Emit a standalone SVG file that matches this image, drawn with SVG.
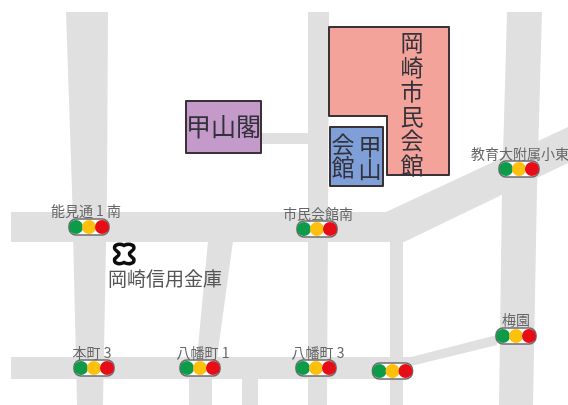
<svg xmlns="http://www.w3.org/2000/svg" xmlns:xlink="http://www.w3.org/1999/xlink" width="568" height="405" viewBox="0 0 568 405">
<style>
.road{fill:#e0e0e0}
.bld{stroke:#3a3238;stroke-width:2;stroke-linejoin:round}
text{font-family:"Noto Sans CJK JP","Noto Sans",sans-serif}
.big{fill:#33303a}
.sm{font-size:14px;fill:#666;text-anchor:middle}
.v{writing-mode:vertical-rl;text-anchor:start}
</style>
<defs>
<filter id="soft" x="-5%" y="-5%" width="110%" height="110%"><feGaussianBlur stdDeviation="0.7"/></filter>
<g id="sig">
<rect x="-20" y="-8" width="40" height="16" rx="7" fill="#fff" stroke="#6b6b6b" stroke-width="1.6"/>
<circle cx="-13" r="7" fill="#0a9a4a"/>
<circle r="7" fill="#fcc010"/>
<circle cx="13" r="7" fill="#e60d16"/>
</g>
</defs>
<rect width="568" height="405" fill="#fff"/>
<g filter="url(#soft)">
<g id="roads">
<polygon class="road" points="66,12 108,12 107,190 103,405 77,405 72,190"/>
<polygon class="road" points="308,12 329,12 327,405 308,405"/>
<polygon class="road" points="507,12 542,12 537,190 533,405 499,405 502,190"/>
<polygon class="road" points="11,212 386,212 568,127 568,163 404,242 11,242"/>
<polygon class="road" points="11,357 411,357 497,335 497,345 411,366 403,379 11,379"/>
<polygon class="road" points="390,240 403,240 403,405 390,405"/>
<polygon class="road" points="208,241 233,241 217,358 197,358"/>
<rect class="road" x="189" y="378" width="23" height="27"/>
<rect class="road" x="242" y="378" width="16" height="27"/>
<rect class="road" x="258" y="133" width="52" height="11"/>
</g>
<g id="koyamakaku">
<rect class="bld" x="186" y="101" width="75" height="52" fill="#c39aca"/>
<text class="big" x="223.500" y="136" font-size="25" text-anchor="middle">甲山閣</text>
</g>
<g id="shimin-kaikan">
<polygon class="bld" points="329,27 449,27 449,175 387,175 387,116 329,116" fill="#f4a39b"/>
<text class="big v" x="412" y="31" font-size="23" letter-spacing="1.500">岡崎市民会館</text>
</g>
<g id="koyama-kaikan">
<rect class="bld" x="330" y="127" width="53" height="59" fill="#7f9fd8"/>
<text class="big v" x="370" y="135" font-size="23" letter-spacing="0">甲山</text>
<text class="big v" x="343" y="133" font-size="23" letter-spacing="0">会館</text>
</g>
<g id="shinkin">
<path d="M114.500,248 C114.500,244 120,243.500 124,245.500 C128,243.500 134,244 134,248 C134,251 129.500,251 129.500,254 C129.500,257 134,257 134,260 C134,264 128,264.500 124,262.500 C120,264.500 114.500,264 114.500,260 C114.500,257 119,257 119,254 C119,251 114.500,251 114.500,248Z" fill="#fff" stroke="#111" stroke-width="3.500"/>
<text x="165" y="286" font-size="19" fill="#555" text-anchor="middle">岡崎信用金庫</text>
</g>
<g id="sig-noumi">
<text class="sm" x="86" y="216">能見通 1 南</text>
<use xlink:href="#sig" href="#sig" x="89" y="227"/>
</g>
<g id="sig-shimin">
<text class="sm" x="318" y="219">市民会館南</text>
<use xlink:href="#sig" href="#sig" x="317" y="229"/>
</g>
<g id="sig-kyoiku">
<text class="sm" x="471" y="159" style="text-anchor:start">教育大附属小東</text>
<use xlink:href="#sig" href="#sig" x="519" y="169"/>
</g>
<g id="sig-honmachi">
<text class="sm" x="92" y="358">本町 3</text>
<use xlink:href="#sig" href="#sig" x="94" y="368"/>
</g>
<g id="sig-hachiman1">
<text class="sm" x="203" y="358">八幡町 1</text>
<use xlink:href="#sig" href="#sig" x="200" y="368"/>
</g>
<g id="sig-hachiman3">
<text class="sm" x="318" y="358">八幡町 3</text>
<use xlink:href="#sig" href="#sig" x="316" y="368"/>
</g>
<g id="sig-plain">
<use xlink:href="#sig" href="#sig" x="392.500" y="371"/>
</g>
<g id="sig-umezono">
<text class="sm" x="516" y="325">梅園</text>
<use xlink:href="#sig" href="#sig" x="516" y="336"/>
</g>
</g>
</svg>
